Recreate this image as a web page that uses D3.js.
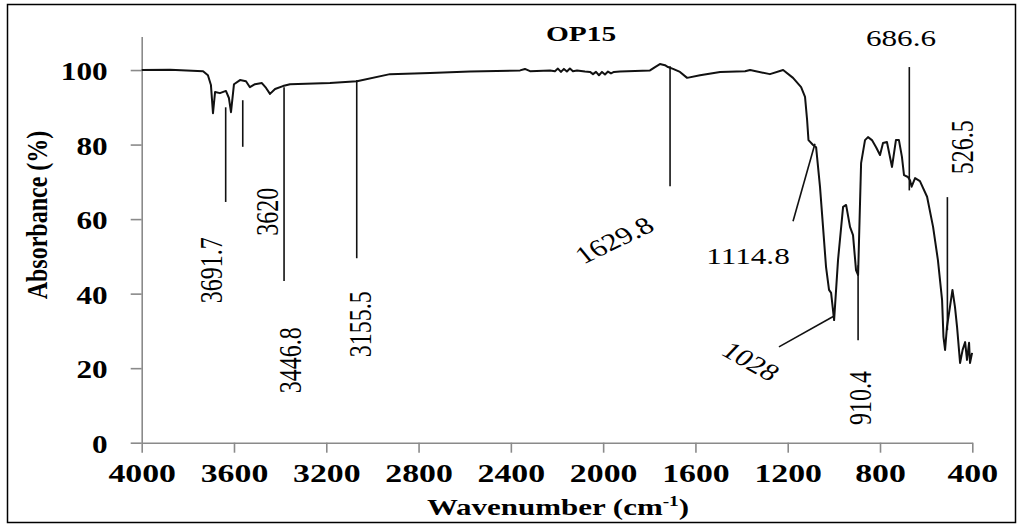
<!DOCTYPE html>
<html>
<head>
<meta charset="utf-8">
<script src="https://cdn.jsdelivr.net/npm/d3@7"></script>
<style>
  body { margin: 0; background: #fff; }
  svg { display: block; }
</style>
</head>
<body>
<div id="chart"></div>
<script>
// spectrum values
const wavenumbers = [
  4000, 3877, 3734, 3713, 3700, 3691, 3682, 3661, 3635, 3622, 3613, 3600,
  3574, 3548, 3531, 3509, 3479, 3461, 3444, 3422, 3388, 3357, 3184, 3067,
  2924, 2750, 2577, 2360, 2339, 2317, 2230, 2209, 2196, 2183, 2170, 2157,
  2144, 2131, 2113, 2079, 2057, 2044, 2031, 2018, 2005, 1992, 1979, 1966,
  1953, 1927, 1797, 1775, 1754, 1732, 1719, 1697, 1667, 1636, 1580, 1493,
  1385, 1363, 1277, 1220, 1177, 1142, 1125, 1116, 1110, 1090, 1077, 1060,
  1047, 1034, 1021, 1012, 999, 982, 960, 947, 930, 917, 904, 895,
  882, 865, 852, 835, 817, 800, 787, 770, 748, 731, 718, 705,
  696, 679, 670, 663, 648, 627, 596, 570, 549, 531, 525, 518,
  510, 497, 486, 475, 466, 453, 442, 431, 423, 414, 410, 401
]
const absorbance = [
  100.0, 100.1, 99.7, 98.6, 96.0, 88.4, 94.1, 93.8, 94.4, 92.5, 88.7, 96.2,
  97.3, 97.0, 95.4, 96.2, 96.5, 95.2, 93.6, 94.9, 95.7, 96.2, 96.5, 97.0,
  98.9, 99.2, 99.6, 99.9, 100.3, 99.7, 99.9, 99.7, 100.4, 99.5, 100.3, 99.6,
  100.4, 99.7, 99.9, 99.6, 99.5, 98.9, 99.5, 98.6, 99.5, 98.8, 99.6, 99.1,
  99.5, 99.6, 99.9, 100.8, 101.6, 101.3, 100.8, 100.3, 99.5, 97.9, 98.6, 99.5,
  99.7, 100.0, 98.9, 100.0, 97.9, 95.4, 92.8, 86.6, 81.2, 79.9, 79.3, 68.6,
  57.9, 47.2, 41.0, 40.2, 32.9, 49.0, 63.3, 63.8, 57.9, 55.7, 46.3, 45.0,
  75.0, 81.2, 82.0, 81.2, 79.3, 77.2, 80.4, 80.7, 74.0, 81.2, 81.2, 76.7,
  71.8, 71.3, 70.4, 68.7, 71.0, 70.2, 66.0, 57.9, 49.0, 38.3, 28.4, 24.9,
  31.0, 36.4, 41.0, 36.4, 31.0, 21.4, 24.9, 27.0, 22.2, 26.8, 21.4, 24.1
]

const xTicks = [4000, 3600, 3200, 2800, 2400, 2000, 1600, 1200, 800, 400]
const yTicks = [0, 20, 40, 60, 80, 100]
const peakLabels = ['3691.7', '3620', '3446.8', '3155.5', '1629.8', '1114.8', '686.6', '526.5', '910.4', '1028']

const chartTitle = 'OP15'
const yTitle = 'Absorbance (%)'

// where each peak note sits, in data units (wavenumber, absorbance)
const notes = [
  { line: [[3636, 90.0], [3636, 64.6]], at: [3700, 46.3], angle: -90 },
  { line: [[3562, 91.9], [3562, 79.4]], at: [3455, 62.0], angle: -90 },
  { line: [[3383, 95.4], [3383, 43.4]], at: [3357, 22.1], angle: -90 },
  { line: [[3068, 97.3], [3068, 49.5]], at: [3054, 31.8], angle: -90 },
  { line: [[1710, 101.0], [1710, 68.8]], at: [1953, 54.4], angle: -32 },
  { line: [[1177, 59.4], [1082, 80.2]], at: [1372, 50.3], angle: 0 },
  { line: [[673, 100.8], [673, 67.7]], at: [709, 108.6], angle: 0 },
  { line: [[508, 65.9], [508, 30.2]], at: [444, 79.3], angle: -90 },
  { line: [[895, 47.6], [895, 27.5]], at: [887, 12.0], angle: -90 },
  { line: [[1238, 25.7], [999, 34.0]], at: [1359, 21.9], angle: 36 },
]

const W = 1021
const H = 524
const SX = 1.25 // the source picture is stretched sideways, text follows it
const serif = "'Liberation Serif', serif"

const svg = d3.select('#chart')
  .append('svg')
  .attr('width', W)
  .attr('height', H)
  .style('font-family', serif)

// outer frame
svg.append('rect')
  .attr('x', 7.5)
  .attr('y', 4.5)
  .attr('width', 1008)
  .attr('height', 518)
  .attr('fill', 'none')
  .attr('stroke', '#000')
  .attr('stroke-width', 1.5)

// scales
const x = d3.scaleLinear().domain([4000, 400]).range([141.7, 972.3])
const y = d3.scaleLinear().domain([0, 109]).range([442.7, 36.5])

// stretched text helper
function label(g, cx, cy, txt, { size = 24, weight = 'normal', angle = 0, sx = SX, anchor = 'middle', dy = '0.35em' } = {}) {
  return g.append('text')
    .attr('transform', `translate(${cx},${cy}) scale(${sx},1) rotate(${angle})`)
    .attr('text-anchor', anchor)
    .attr('dy', dy)
    .style('font-family', serif)
    .style('font-size', `${size}px`)
    .style('font-weight', weight)
    .style('fill', '#000')
    .text(txt)
}

// axes
const axisColor = '#8a8a8a'

const xAxis = svg.append('g')
  .attr('transform', `translate(0,${y(0)})`)
  .call(d3.axisBottom(x).tickValues(xTicks).tickSize(10).tickSizeOuter(0).tickFormat(d3.format('d')))

xAxis.select('.domain').attr('stroke', axisColor).attr('stroke-width', 1.6)
xAxis.selectAll('.tick line').attr('stroke', axisColor).attr('stroke-width', 1.6)
xAxis.selectAll('.tick text')
  .attr('y', 0)
  .attr('dy', 0)
  .attr('transform', `translate(0,39) scale(${SX * 1.04},1)`)
  .style('font-family', serif)
  .style('font-size', '26px')
  .style('font-weight', 'bold')
  .style('fill', '#000')

const yAxis = svg.append('g')
  .attr('transform', `translate(${x(4000)},0)`)
  .call(d3.axisLeft(y).tickValues(yTicks).tickSize(11).tickSizeOuter(0))

yAxis.select('.domain').attr('stroke', axisColor).attr('stroke-width', 1.6)
yAxis.selectAll('.tick line').attr('stroke', axisColor).attr('stroke-width', 1.6)
yAxis.selectAll('.tick text')
  .attr('x', 0)
  .attr('dy', '0.35em')
  .attr('transform', `translate(-34,1) scale(${SX},1)`)
  .style('font-family', serif)
  .style('font-size', '25px')
  .style('font-weight', 'bold')
  .style('fill', '#000')

// spectrum
const points = wavenumbers.map((w, i) => [w, absorbance[i]])
const line = d3.line()
  .x(d => x(d[0]))
  .y(d => y(d[1]))

svg.append('path')
  .datum(points)
  .attr('d', line)
  .attr('fill', 'none')
  .attr('stroke', '#111')
  .attr('stroke-width', 2)
  .attr('stroke-linejoin', 'round')

// peak notes: leader line + label
const noteLayer = svg.append('g')
notes.forEach((n, i) => {
  noteLayer.append('line')
    .attr('x1', x(n.line[0][0]))
    .attr('y1', y(n.line[0][1]))
    .attr('x2', x(n.line[1][0]))
    .attr('y2', y(n.line[1][1]))
    .attr('stroke', '#111')
    .attr('stroke-width', 1.6)

  label(noteLayer, x(n.at[0]), y(n.at[1]), peakLabels[i], { size: 24, angle: n.angle, sx: 1.3 })
})

// titles
label(svg, 581, 34, chartTitle, { size: 21, weight: 'bold', sx: 1.4 })

label(svg, 47, 215, yTitle, { size: 24, weight: 'bold', angle: -90, dy: 0 })

const xt = svg.append('text')
  .attr('transform', `translate(558,515) scale(1.29,1)`)
  .attr('text-anchor', 'middle')
  .style('font-family', serif)
  .style('font-size', '24px')
  .style('font-weight', 'bold')
xt.append('tspan').text('Wavenumber (cm')
xt.append('tspan').attr('dy', -9).style('font-size', '15px').text('-1')
xt.append('tspan').attr('dy', 9).text(')')
</script>
</body>
</html>
